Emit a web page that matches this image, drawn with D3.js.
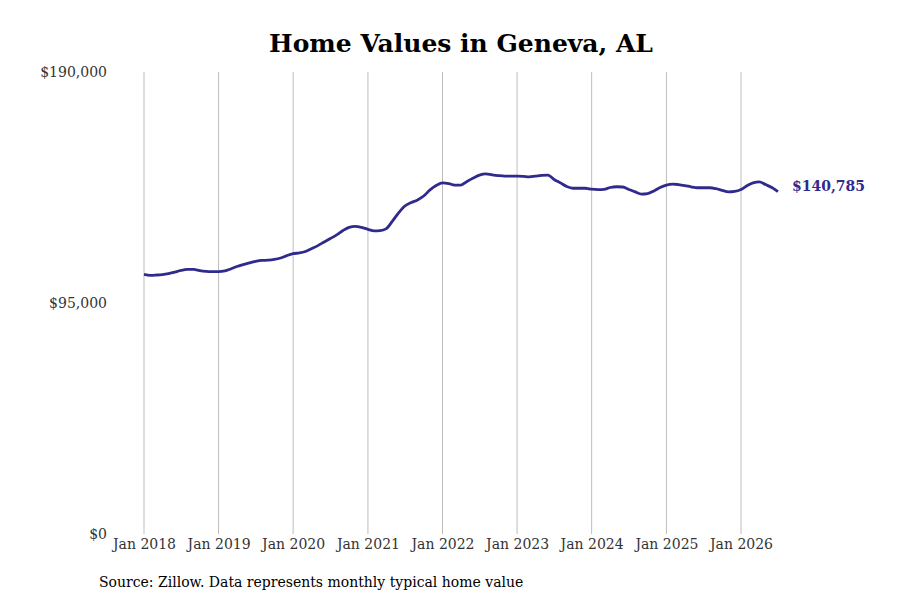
<!DOCTYPE html>
<html>
<head>
<meta charset="utf-8">
<script src="https://cdn.jsdelivr.net/npm/d3@7"></script>
<style>
  body { margin: 0; background: #fff; }
  svg { display: block; font-family: "DejaVu Serif", serif; }
</style>
</head>
<body>
<div id="canvas"></div>
<script>
const canvas = d3.select("#canvas");

// monthly typical home value, Jan 2018 .. Jul 2026
const startYear = 2018;
const values = [
    106800, 106400, 106500, 106700, 107100, 107700, 108400, 108800, 108800, 108300, 108000, 107900,
    107900, 108200, 109000, 110000, 110800, 111500, 112100, 112500, 112600, 112900, 113500, 114500,
    115300, 115600, 116200, 117400, 118600, 120100, 121500, 123000, 124800, 126100, 126500, 126100,
    125300, 124700, 124800, 125600, 128700, 132200, 134900, 136300, 137400, 139000, 141500, 143300,
    144400, 144100, 143500, 143500, 145000, 146400, 147600, 148100, 147700, 147400, 147200, 147200,
    147200, 147100, 146900, 147200, 147500, 147600, 145800, 144400, 142900, 142200, 142200, 142200,
    141800, 141600, 141700, 142500, 142800, 142700, 141700, 140700, 139800, 140000, 141100, 142500,
    143500, 143900, 143700, 143300, 142800, 142400, 142400, 142400, 142000, 141300, 140700, 140900,
    141700, 143300, 144400, 144800, 143700, 142500, 140785
];
const yTicks = [0, 95000, 190000];
const xTickYears = [2018, 2019, 2020, 2021, 2022, 2023, 2024, 2025, 2026];

const data = values.map((v, i) => ({ date: new Date(startYear, i, 1), value: v }));

const width = 900;
const height = 600;
const margin = { top: 72, left: 144, bottom: 66, right: 159 };

const svg = canvas.append("svg")
    .attr("width", width)
    .attr("height", height);

const x = d3.scaleTime()
    .domain([new Date(2018, 0, 1), new Date(2026, 0, 1)])
    .range([margin.left, 741]);

const y = d3.scaleLinear()
    .domain([0, 190000])
    .range([height - margin.bottom, margin.top]);

// title
svg.append("text")
    .attr("x", 461)
    .attr("y", 52)
    .attr("text-anchor", "middle")
    .style("font-size", "25px")
    .style("font-weight", "bold")
    .style("fill", "#000")
    .text("Home Values in Geneva, AL");

// vertical grid
svg.append("g")
    .selectAll("line")
    .data(xTickYears)
    .enter().append("line")
    .attr("x1", d => x(new Date(d, 0, 1)))
    .attr("x2", d => x(new Date(d, 0, 1)))
    .attr("y1", y(190000))
    .attr("y2", y(0))
    .style("stroke", "#bdbdbd")
    .style("stroke-width", 1);

// x axis labels
const xAxis = svg.append("g")
    .attr("transform", `translate(0, ${y(0)})`)
    .call(d3.axisBottom(x)
        .tickValues(xTickYears.map(d => new Date(d, 0, 1)))
        .tickFormat(d3.timeFormat("Jan %Y"))
        .tickSize(0)
        .tickPadding(5));
xAxis.select(".domain").remove();
xAxis.selectAll("text")
    .style("font-family", "DejaVu Serif, serif")
    .style("font-size", "14px")
    .style("fill", "#333");

// y axis labels
const yAxis = svg.append("g")
    .attr("transform", `translate(107, 0)`)
    .call(d3.axisLeft(y)
        .tickValues(yTicks)
        .tickFormat(d => "$" + d3.format(",")(d))
        .tickSize(0)
        .tickPadding(0));
yAxis.select(".domain").remove();
yAxis.selectAll("text")
    .style("font-family", "DejaVu Serif, serif")
    .style("font-size", "14px")
    .style("fill", "#333");

// line
const line = d3.line()
    .x(d => x(d.date))
    .y(d => y(d.value))
    .curve(d3.curveMonotoneX);

svg.append("path")
    .datum(data)
    .attr("d", line)
    .style("fill", "none")
    .style("stroke", "#2f2a8c")
    .style("stroke-width", 2.8)
    .style("stroke-linejoin", "round");

// end label
const last = data[data.length - 1];
svg.append("text")
    .attr("x", x(last.date) + 14)
    .attr("y", y(last.value) - 5)
    .attr("dominant-baseline", "middle")
    .style("font-size", "14px")
    .style("font-weight", "bold")
    .style("fill", "#2f2a8c")
    .text("$" + d3.format(",")(last.value));

// source
svg.append("text")
    .attr("x", 99)
    .attr("y", 587)
    .style("font-size", "14px")
    .style("fill", "#000")
    .text("Source: Zillow. Data represents monthly typical home value");
</script>
</body>
</html>
